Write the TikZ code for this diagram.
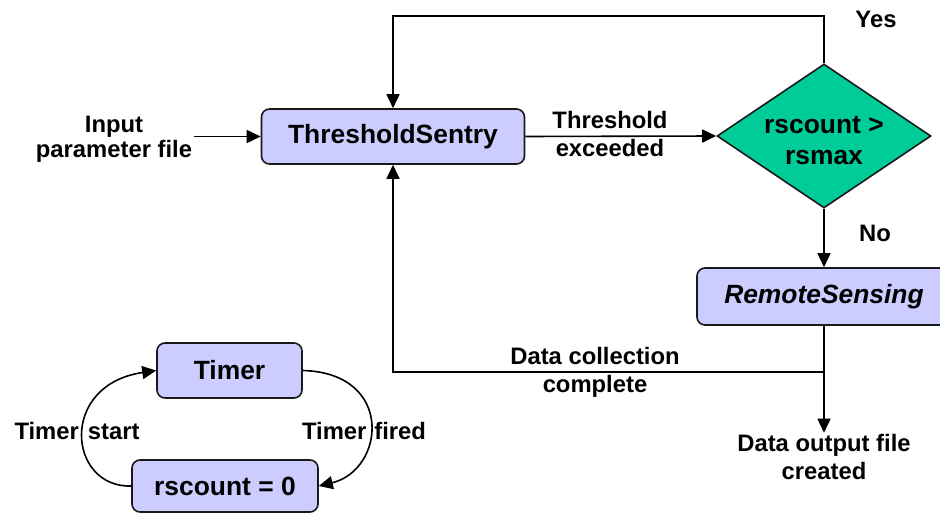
\documentclass[tikz,border=0pt]{standalone}
\usepackage{fontspec}
\setmainfont{Liberation Sans}
\usetikzlibrary{arrows.meta,shapes.geometric}
\definecolor{boxfill}{HTML}{CCCCFF}
\definecolor{decfill}{HTML}{00CC99}
\tikzset{
  boxfont/.style={font=\fontsize{26.4}{31}\selectfont\bfseries},
  proc/.style={draw=black!90, fill=boxfill, rounded corners=8pt, inner sep=0pt, boxfont},
  cond/.style={diamond, draw=black!90, fill=decfill, inner sep=0pt,
    minimum width=214pt, minimum height=144pt},
  lbl/.style={align=center, inner sep=1pt, font=\fontsize{23.8}{27.5}\selectfont\bfseries},
  flow/.style={-{Triangle[length=14pt,width=13pt]}}
}
\begin{document}
\begin{tikzpicture}[x=1pt, y=-1pt, line width=1.6pt]
\clip (0,0) rectangle (940,513);

% process boxes and decision
\node[proc, minimum width=263pt, minimum height=55pt] (ts) at (393,136.5) {ThresholdSentry};
\node[cond, label={[boxfont, align=center, inner sep=0pt, yshift=-5pt]center:rscount >\\rsmax}]
  (dec) at (824,136) {};
\node[proc, minimum width=254pt, minimum height=57pt] (rs) at (824,296.5) {\itshape RemoteSensing};
\node[proc, minimum width=145pt, minimum height=55pt] (tm) at (229.5,370.5) {Timer};
\node[proc, minimum width=186pt, minimum height=52pt] (rc) at (225,486) {rscount = 0};

% labels
\node[lbl, font=\fontsize{23.8}{25}\selectfont\bfseries] (inp) at (114,139) {Input\\parameter file};
\node[lbl] (thr) at (610,134) {Threshold\\exceeded};
\node[lbl, anchor=base] (yes) at (876,28) {Yes};
\node[lbl, anchor=base] (no) at (875,242) {No};
\node[lbl] (dcc) at (595,372.5) {Data collection\\complete};
\node[lbl] (out) at (824,457) {Data output file\\created};
\node[lbl, anchor=base] (tstart) at (77,439) {Timer\hspace{9pt}start};
\node[lbl, anchor=base] (tfired) at (364,439) {Timer\hspace{8pt}fired};

% main flow
\coordinate (loop) at (824,16);
\coordinate (split) at (824,372);
\draw[flow] (inp.east |- ts.west) -- (ts.west);
\draw[flow] (ts.east) -- (dec.west);
\draw[flow] (dec.north) -- (loop) -| (ts.north);
\draw[flow] (dec.south) -- (rs.north);
\draw[flow] (rs.south) -- (out.north);
\draw[flow] (split) -| (ts.south);

% timer cycle
\draw[flow] (rc.west) .. controls (68,488) and (58,385) .. (tm.west);
\draw[flow] (tm.east) .. controls (395,373) and (385,470) .. (rc.east);
\end{tikzpicture}
\end{document}
